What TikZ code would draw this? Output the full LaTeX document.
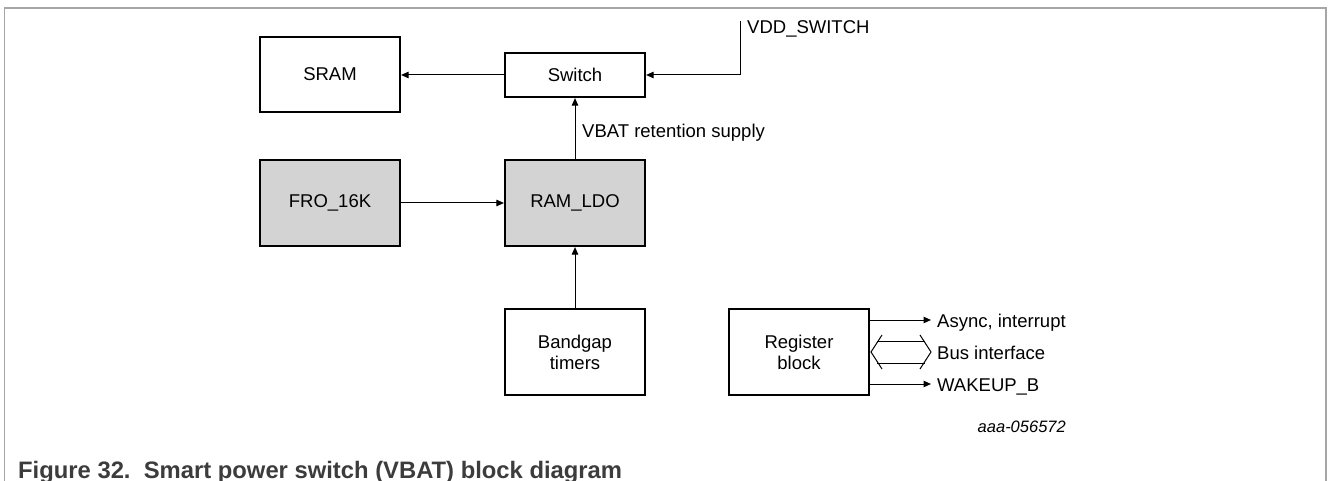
\documentclass[tikz,border=0pt]{standalone}
\usepackage{fontspec}
\setmainfont{Liberation Sans}
\usetikzlibrary{arrows.meta}
\definecolor{blockgray}{RGB}{211,211,211}
\definecolor{framegray}{RGB}{166,166,166}
\definecolor{captiongray}{RGB}{60,60,60}
\tikzset{
  blk/.style={draw=black, line width=2.2pt, minimum width=140pt, inner sep=0pt, align=center,
              font=\fontsize{18.5}{21}\selectfont},
  shaded/.style={blk, fill=blockgray},
  arr/.style={line width=1pt, -{Triangle[length=7.5pt,width=6.5pt]}},
  wire/.style={line width=1pt},
  lbl/.style={inner sep=0pt, font=\fontsize{18.5}{21}\selectfont},
}
\begin{document}
\begin{tikzpicture}[x=1pt, y=-1pt]
\useasboundingbox (0,0) rectangle (1328,481);
% frame
\draw[framegray, line width=1.4pt] (4.5,481) -- (4.5,8) -- (1326,8) -- (1326,481);

% blocks
\node[blk, minimum height=75pt] (sram) at (330,74.5) {SRAM};
\node[blk, minimum height=44pt] (switch) at (575,75) {Switch};
\node[shaded, minimum height=86pt] (fro) at (330,203) {FRO\_16K};
\node[shaded, minimum height=86pt] (ldo) at (575,203) {RAM\_LDO};
\node[blk, minimum height=86pt] (bg) at (575,352) {Bandgap\\timers};
\node[blk, minimum height=86pt] (reg) at (799,352) {Register\\block};

% connectors
\draw[arr] (switch.west) -- (sram.east |- switch.west);
\coordinate (vddtop) at (740.5,21);
\draw[arr] (vddtop) |- (switch.east);
\node[lbl, anchor=base west] (vddlbl) at (747,34) {VDD\_SWITCH};
\draw[arr] (ldo.north) -- (switch.south);
\node[lbl, anchor=base west] (vbatlbl) at (582,138) {VBAT retention supply};
\draw[arr] (fro.east) -- (ldo.west |- fro.east);
\draw[arr] (bg.north) -- (ldo.south);

% register block outputs
\coordinate (asyncend) at (931,320);
\draw[arr] (reg.east |- asyncend) -- (asyncend);
\node[lbl, anchor=base west] (asynclbl) at (937,327) {Async, interrupt};
\coordinate (wakeend) at (931,384);
\draw[arr] (reg.east |- wakeend) -- (wakeend);
\node[lbl, anchor=base west] (wakelbl) at (937,391) {WAKEUP\_B};

% bus interface double arrow
\draw[wire] (882,335) -- (871,352) -- (882,369);
\draw[wire] (920,335) -- (931,352) -- (920,369);
\draw[wire] (877.1,341) -- (924.9,341);
\draw[wire] (877.1,363) -- (924.9,363);
\node[lbl, anchor=base west] (buslbl) at (937,359) {Bus interface};

% figure id
\node[inner sep=0pt, anchor=base east, font=\fontsize{16.5}{19}\selectfont\itshape] (figid) at (1066,432) {aaa-056572};

% caption
\node[inner sep=0pt, anchor=base west, text=captiongray, font=\fontsize{23.8}{27}\selectfont\bfseries] (caption) at (18,478) {Figure 32.\ \ Smart power switch (VBAT) block diagram};
\end{tikzpicture}
\end{document}
